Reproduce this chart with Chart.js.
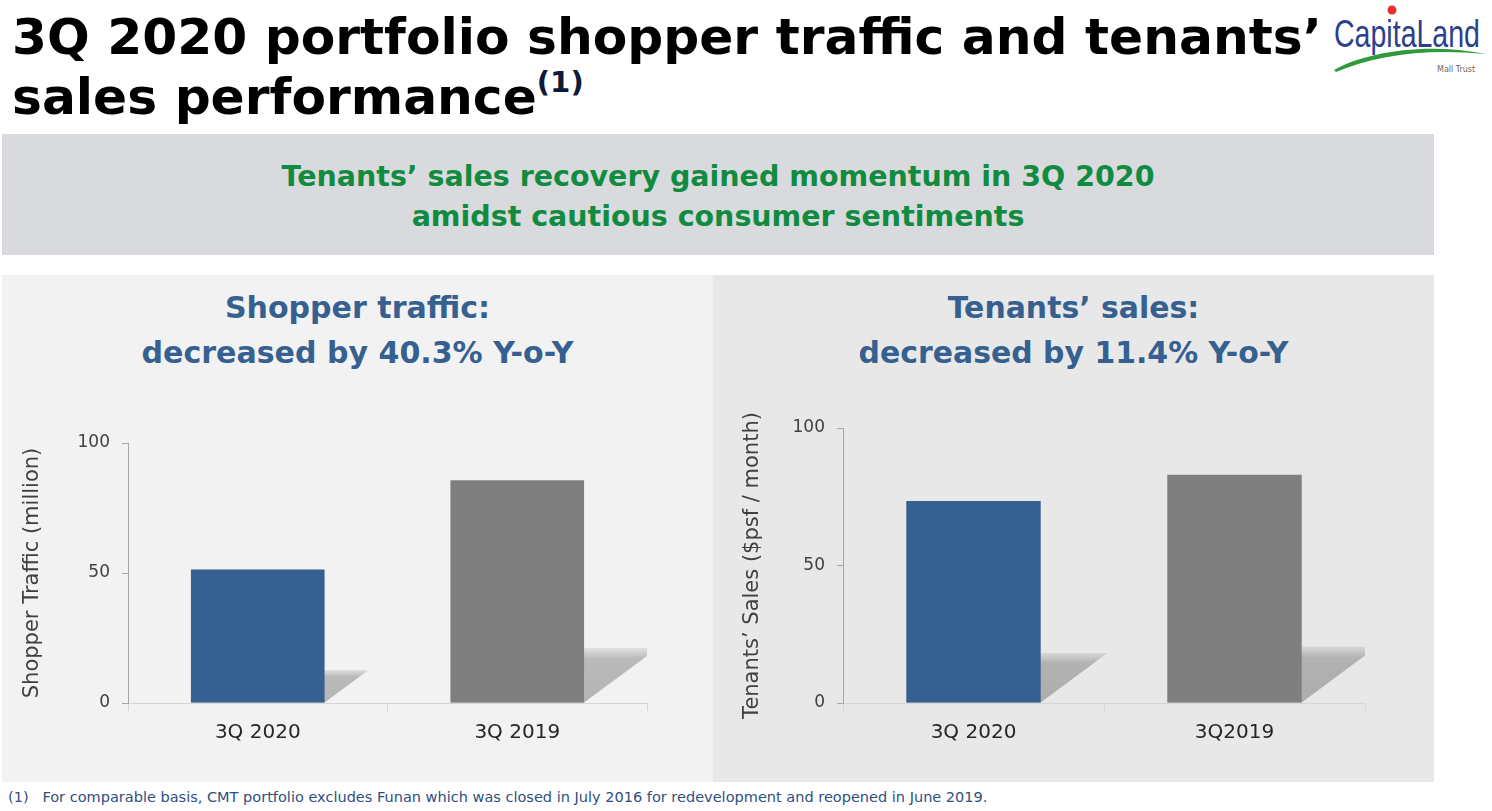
<!DOCTYPE html>
<html>
<head>
<meta charset="utf-8">
<script src="https://cdn.jsdelivr.net/npm/chart.js@4.4.0/dist/chart.umd.min.js"></script>
<style>
  body { margin: 0; width: 1492px; height: 811px; background: #fff; position: relative; overflow: hidden; font-family: "DejaVu Sans", sans-serif; }
  .abs { position: absolute; }
  .ln { display: inline-block; white-space: nowrap; }
  #title { left: 12px; top: 7px; font-size: 51px; line-height: 60px; font-weight: bold; color: #000; white-space: nowrap; }
  #title sup { font-size: 0.58em; vertical-align: 0; position: relative; top: -0.75em; color: #0d1a3a; }
  #banner { left: 2px; top: 134px; width: 1432px; height: 121px; background: #d9dadd; }
  #bannerText { left: 2px; top: 157px; width: 1432px; text-align: center; font-size: 30px; line-height: 40px; font-weight: bold; color: #108b3f; }
  #panelL { left: 2px; top: 275px; width: 711px; height: 507px; background: #f2f2f2; }
  #panelR { left: 713px; top: 275px; width: 721px; height: 507px; background: #e8e8e8; }
  .head { top: 285px; text-align: center; font-size: 29px; line-height: 45px; font-weight: bold; color: #35608f; }
  #footnote { left: 8px; top: 788px; font-size: 14px; line-height: 18px; color: #2f4f7f; white-space: nowrap; }
</style>
</head>
<body>
<div id="title" class="abs"><span class="ln" id="titleLn">3Q 2020 portfolio shopper traffic and tenants’</span><br>sales performance<sup>(1)</sup></div>

<svg class="abs" style="left:1326px;top:0px" width="166" height="80">
  <circle cx="66" cy="10" r="4.5" fill="#e8312f"/>
  <text x="8" y="47" font-family="Liberation Sans Narrow, Liberation Sans, sans-serif" font-size="38" fill="#2c3f8e" textLength="146" lengthAdjust="spacingAndGlyphs">CapitaLand</text>
  <path d="M8 70 C 40 52, 100 42, 160 54 C 100 48, 50 55, 10 72 Z" fill="#2e9a3a"/>
  <text x="111" y="72" font-family="DejaVu Sans, sans-serif" font-size="8" fill="#666">Mall Trust</text>
</svg>

<div id="banner" class="abs"></div>
<div id="bannerText" class="abs"><span class="ln" id="bannerLn">Tenants’ sales recovery gained momentum in 3Q 2020</span><br>amidst cautious consumer sentiments</div>

<div id="panelL" class="abs"></div>
<div id="panelR" class="abs"></div>
<div id="headL" class="abs head" style="left:2px;width:711px">Shopper traffic:<br><span class="ln" id="headLLn">decreased by 40.3% Y-o-Y</span></div>
<div id="headR" class="abs head" style="left:713px;width:721px">Tenants’ sales:<br><span class="ln" id="headRLn">decreased by 11.4% Y-o-Y</span></div>

<div class="abs" style="left:0px;top:420px;width:712px;height:360px"><canvas id="chartTraffic" width="712" height="360"></canvas></div>
<div class="abs" style="left:714px;top:405px;width:720px;height:375px"><canvas id="chartSales" width="720" height="375"></canvas></div>

<div id="footnote" class="abs"><span class="ln" id="footLn">(1)&nbsp;&nbsp;&nbsp;For comparable basis, CMT portfolio excludes Funan which was closed in July 2016 for redevelopment and reopened in June 2019.</span></div>

<script>
const trafficCategories = ['3Q 2020', '3Q 2019'];
const trafficValues = [51.3, 85.7];
const salesCategories = ['3Q 2020', '3Q2019'];
const salesValues = [73.5, 83.0];
const yTicks = [0, 50, 100];
const barColors = ['#36608f', '#7f7f7f'];

// scale a text block so one of its lines is as wide as in the slide
function fitBlock(blockId, lineId, target) {
  const block = document.getElementById(blockId);
  const line = document.getElementById(lineId);
  const fs = parseFloat(getComputedStyle(block).fontSize);
  const w = line.getBoundingClientRect().width;
  block.style.fontSize = (fs * target / w).toFixed(2) + 'px';
}
fitBlock('title', 'titleLn', 1310);
fitBlock('bannerText', 'bannerLn', 873);
fitBlock('headL', 'headLLn', 432);
fitBlock('headR', 'headRLn', 430);
fitBlock('footnote', 'footLn', 980);

// soft skewed shadow behind each bar
const barShadow = {
  id: 'barShadow',
  beforeDatasetsDraw(chart) {
    const ctx = chart.ctx;
    const area = chart.chartArea;
    ctx.save();
    ctx.beginPath();
    ctx.rect(area.left, area.top, area.right - area.left, area.bottom - area.top);
    ctx.clip();
    chart.getDatasetMeta(0).data.forEach(bar => {
      const p = bar.getProps(['x', 'y', 'base', 'width'], true);
      const left = p.x - p.width / 2, right = p.x + p.width / 2;
      const dy = (p.base - p.y) * 0.245;
      const dx = dy * 1.35;
      const g = ctx.createLinearGradient(0, p.base, 0, p.base - dy);
      g.addColorStop(0, 'rgba(0,0,0,0.25)');
      g.addColorStop(0.8, 'rgba(0,0,0,0.23)');
      g.addColorStop(1, 'rgba(0,0,0,0.07)');
      ctx.fillStyle = g;
      ctx.beginPath();
      ctx.moveTo(left, p.base);
      ctx.lineTo(right, p.base);
      ctx.lineTo(right + dx, p.base - dy);
      ctx.lineTo(left + dx, p.base - dy);
      ctx.closePath();
      ctx.fill();
    });
    ctx.restore();
  }
};

function makeChart(id, labels, values, yTitle, pad, yWidth, xHeight, titlePad) {
  return new Chart(document.getElementById(id), {
    type: 'bar',
    data: {
      labels: labels,
      datasets: [{
        data: values,
        backgroundColor: barColors,
        categoryPercentage: 1,
        barPercentage: 0.515
      }]
    },
    options: {
      responsive: false,
      animation: false,
      layout: { padding: pad },
      plugins: { legend: { display: false }, tooltip: { enabled: false } },
      scales: {
        x: {
          grid: { drawOnChartArea: false, tickLength: 8, color: '#d6d6d6' },
          border: { color: '#d6d6d6' },
          ticks: { padding: 10, color: '#262626', font: { family: 'DejaVu Sans', size: 20 } },
          afterFit(s) { s.height = xHeight; }
        },
        y: {
          min: 0,
          max: 100,
          afterBuildTicks(s) { s.ticks = yTicks.map(v => ({ value: v })); },
          grid: { drawOnChartArea: false, tickLength: 6, color: '#a6a6a6' },
          border: { color: '#a6a6a6' },
          ticks: { padding: 12, color: '#404040', font: { family: 'DejaVu Sans', size: 17 } },
          title: { display: true, text: yTitle, color: '#404040', font: { family: 'DejaVu Sans', size: 21 }, padding: { top: titlePad, bottom: 0 } },
          afterFit(s) { s.width = yWidth; }
        }
      }
    },
    plugins: [barShadow]
  });
}

makeChart('chartTraffic', trafficCategories, trafficValues, 'Shopper Traffic (million)',
  { top: 23, right: 65, bottom: 0, left: 0 }, 128, 77, 20);
makeChart('chartSales', salesCategories, salesValues, 'Tenants’ Sales ($psf / month)',
  { top: 23, right: 69, bottom: 0, left: 0 }, 129, 77, 26);
</script>
</body>
</html>
